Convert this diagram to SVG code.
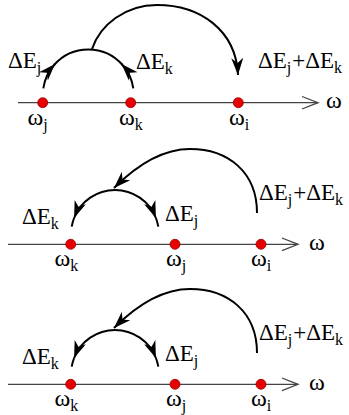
<svg xmlns="http://www.w3.org/2000/svg" width="349" height="415" viewBox="0 0 349 415">
<defs>
<style>
.t{font-family:"Liberation Serif","Times New Roman",serif;font-size:23px;fill:#000}
.w{font-size:24px}
.s{font-size:16px}
.ax{stroke:#444;stroke-width:1.3;fill:none}
.dot{fill:#e60000;stroke:#900;stroke-width:0.8}
.arc{stroke:#000;stroke-width:2;fill:none}
</style>
<marker id="ah" markerUnits="userSpaceOnUse" markerWidth="24" markerHeight="24" refX="17" refY="6" orient="auto" viewBox="0 0 24 12">
<path d="M17,6 L0,0 L5,6 L0,12 Z" fill="#000"/>
</marker>
</defs>
<rect width="349" height="415" fill="#fff"/>

<!-- Panel 1 -->
<g id="axis1">
<line class="ax" x1="18" y1="102.7" x2="318" y2="102.7"/>
<polyline class="ax" points="302,96.5 318,102.7 302,109"/>
<text class="t w" x="326" y="108">ω</text>
</g>
<g id="wj1"><circle class="dot" cx="42.7" cy="102.7" r="5"/><text class="t w" x="27.5" y="124.5">ω<tspan class="s" dy="5">j</tspan></text></g>
<g id="wk1"><circle class="dot" cx="130.7" cy="102.7" r="5"/><text class="t w" x="119" y="124.5">ω<tspan class="s" dy="5">k</tspan></text></g>
<g id="wi1"><circle class="dot" cx="238.3" cy="102.7" r="5"/><text class="t w" x="229" y="124.5">ω<tspan class="s" dy="5">i</tspan></text></g>
<g id="lab1">
<text class="t" x="8" y="68">ΔE<tspan class="s" dy="5">j</tspan></text>
<text class="t" x="136" y="69">ΔE<tspan class="s" dy="5">k</tspan></text>
<text class="t" x="258" y="68">ΔE<tspan class="s" dy="5">j</tspan><tspan dy="-5" dx="1">+ΔE</tspan><tspan class="s" dy="5">k</tspan></text>
</g>
<g id="conn1">
<path class="arc" d="M43.3,88.3 A45.5,45.5 0 0 1 55,64" marker-end="url(#ah)"/>
<path class="arc" d="M54,65 A45.5,45.5 0 0 1 122.6,65"/>
<path class="arc" d="M133.3,88.3 A45.5,45.5 0 0 0 121.6,64" marker-end="url(#ah)"/>
<path class="arc" d="M92,49 C100,25 125,5 157,5 C200,5 236,30 238,75" marker-end="url(#ah)"/>
</g>

<!-- Panel 2 -->
<g id="axis2">
<line class="ax" x1="8" y1="244.3" x2="298" y2="244.3"/>
<polyline class="ax" points="282,238 298,244.3 282,250.6"/>
<text class="t w" x="309" y="249.5">ω</text>
</g>
<g id="wk2"><circle class="dot" cx="70.7" cy="244.3" r="5"/><text class="t w" x="54.5" y="266">ω<tspan class="s" dy="5">k</tspan></text></g>
<g id="wj2"><circle class="dot" cx="175" cy="244.3" r="5"/><text class="t w" x="166" y="266">ω<tspan class="s" dy="5">j</tspan></text></g>
<g id="wi2"><circle class="dot" cx="261" cy="244.3" r="5"/><text class="t w" x="251" y="266">ω<tspan class="s" dy="5">i</tspan></text></g>
<g id="lab2">
<text class="t" x="22" y="224">ΔE<tspan class="s" dy="5">k</tspan></text>
<text class="t" x="165" y="221">ΔE<tspan class="s" dy="5">j</tspan></text>
<text class="t" x="259" y="200">ΔE<tspan class="s" dy="5">j</tspan><tspan dy="-5" dx="1">+ΔE</tspan><tspan class="s" dy="5">k</tspan></text>
</g>
<g id="conn2">
<path class="arc" d="M115,190 A43.9,43.9 0 0 0 74.1,218" marker-end="url(#ah)"/>
<path class="arc" d="M74.1,218 A43.9,43.9 0 0 0 71.7,226.7"/>
<path class="arc" d="M115,190 A43.9,43.9 0 0 1 155.9,218" marker-end="url(#ah)"/>
<path class="arc" d="M155.9,218 A43.9,43.9 0 0 1 158.3,226.7"/>
<path class="arc" d="M257,213 C257,172 228,149 190,149 C160,149 135,167 114,188" marker-end="url(#ah)"/>
</g>

<!-- Panel 3 -->
<g id="axis3">
<line class="ax" x1="8" y1="384.3" x2="298" y2="384.3"/>
<polyline class="ax" points="282,378 298,384.3 282,390.6"/>
<text class="t w" x="309" y="389.5">ω</text>
</g>
<g id="wk3"><circle class="dot" cx="70.7" cy="384.3" r="5"/><text class="t w" x="54.5" y="406">ω<tspan class="s" dy="5">k</tspan></text></g>
<g id="wj3"><circle class="dot" cx="175" cy="384.3" r="5"/><text class="t w" x="166" y="406">ω<tspan class="s" dy="5">j</tspan></text></g>
<g id="wi3"><circle class="dot" cx="261" cy="384.3" r="5"/><text class="t w" x="251" y="406">ω<tspan class="s" dy="5">i</tspan></text></g>
<g id="lab3">
<text class="t" x="22" y="364">ΔE<tspan class="s" dy="5">k</tspan></text>
<text class="t" x="165" y="361">ΔE<tspan class="s" dy="5">j</tspan></text>
<text class="t" x="259" y="340">ΔE<tspan class="s" dy="5">j</tspan><tspan dy="-5" dx="1">+ΔE</tspan><tspan class="s" dy="5">k</tspan></text>
</g>
<g id="conn3">
<path class="arc" d="M115,330 A43.9,43.9 0 0 0 74.1,358" marker-end="url(#ah)"/>
<path class="arc" d="M74.1,358 A43.9,43.9 0 0 0 71.7,366.7"/>
<path class="arc" d="M115,330 A43.9,43.9 0 0 1 155.9,358" marker-end="url(#ah)"/>
<path class="arc" d="M155.9,358 A43.9,43.9 0 0 1 158.3,366.7"/>
<path class="arc" d="M257,353 C257,312 228,289 190,289 C160,289 135,307 114,328" marker-end="url(#ah)"/>
</g>
</svg>
